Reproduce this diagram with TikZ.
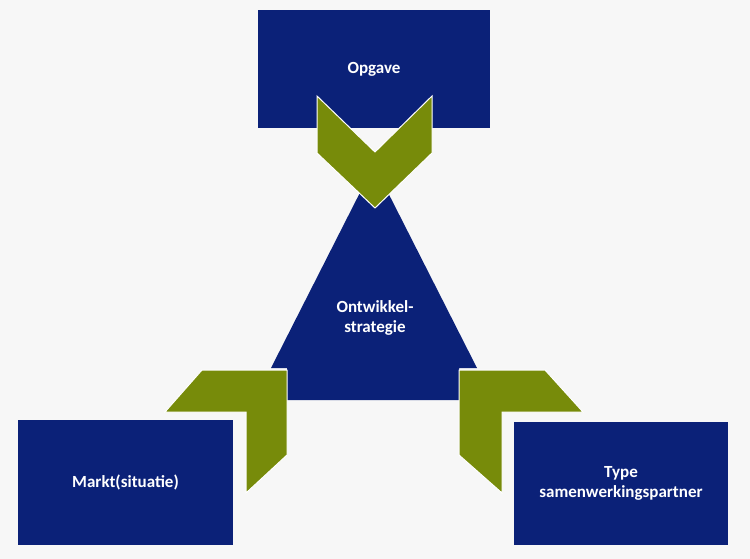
\documentclass[tikz,border=0pt]{standalone}
\usepackage{fontspec}
\setmainfont{Carlito}
\definecolor{navy}{HTML}{0B2178}
\definecolor{olive}{HTML}{778B0A}
\definecolor{paper}{HTML}{F7F7F7}
\tikzset{%
  box/.style   = {shape=rectangle, fill=navy, draw=none, align=center,%
                  text=white, font=\bfseries\fontsize{17}{20}\selectfont, inner sep=0pt},%
  chevron/.style = {fill=olive, draw=white, line width=1pt, line join=miter}%
}
\begin{document}
\begin{tikzpicture}[x=1pt,y=-1pt]
	\fill[paper] (0,0) rectangle (750,559);
	\useasboundingbox (0,0) rectangle (750,559);
	% boxes
	\node[box, minimum width=232pt, minimum height=118pt] (opgave) at (374,69) {Opgave};
	\node[box, minimum width=215pt, minimum height=125pt] (markt) at (125.5,482.5) {Markt(situatie)};
	\node[box, minimum width=214pt, minimum height=123pt] (partner) at (621,483.5) {Type\\samenwerkingspartner};
	% triangle
	\fill[navy] (374,165) -- (477,368) -- (459,368) -- (459,400) -- (287,400) -- (287,368) -- (271,368) -- cycle;
	\node[box, fill=none] (strategie) at (375,318) {Ontwikkel-\\strategie};
	% chevrons
	\draw[chevron] (317,96) -- (375,152) -- (432,96) -- (432,153) -- (375,208) -- (317,153) -- cycle;
	\draw[chevron] (202,370) -- (287,370) -- (287,455) -- (246,493) -- (246,412) -- (165,412) -- cycle;
	\draw[chevron] (459,370) -- (545,370) -- (583,412) -- (502,412) -- (502,493) -- (459,455) -- cycle;
\end{tikzpicture}
\end{document}
